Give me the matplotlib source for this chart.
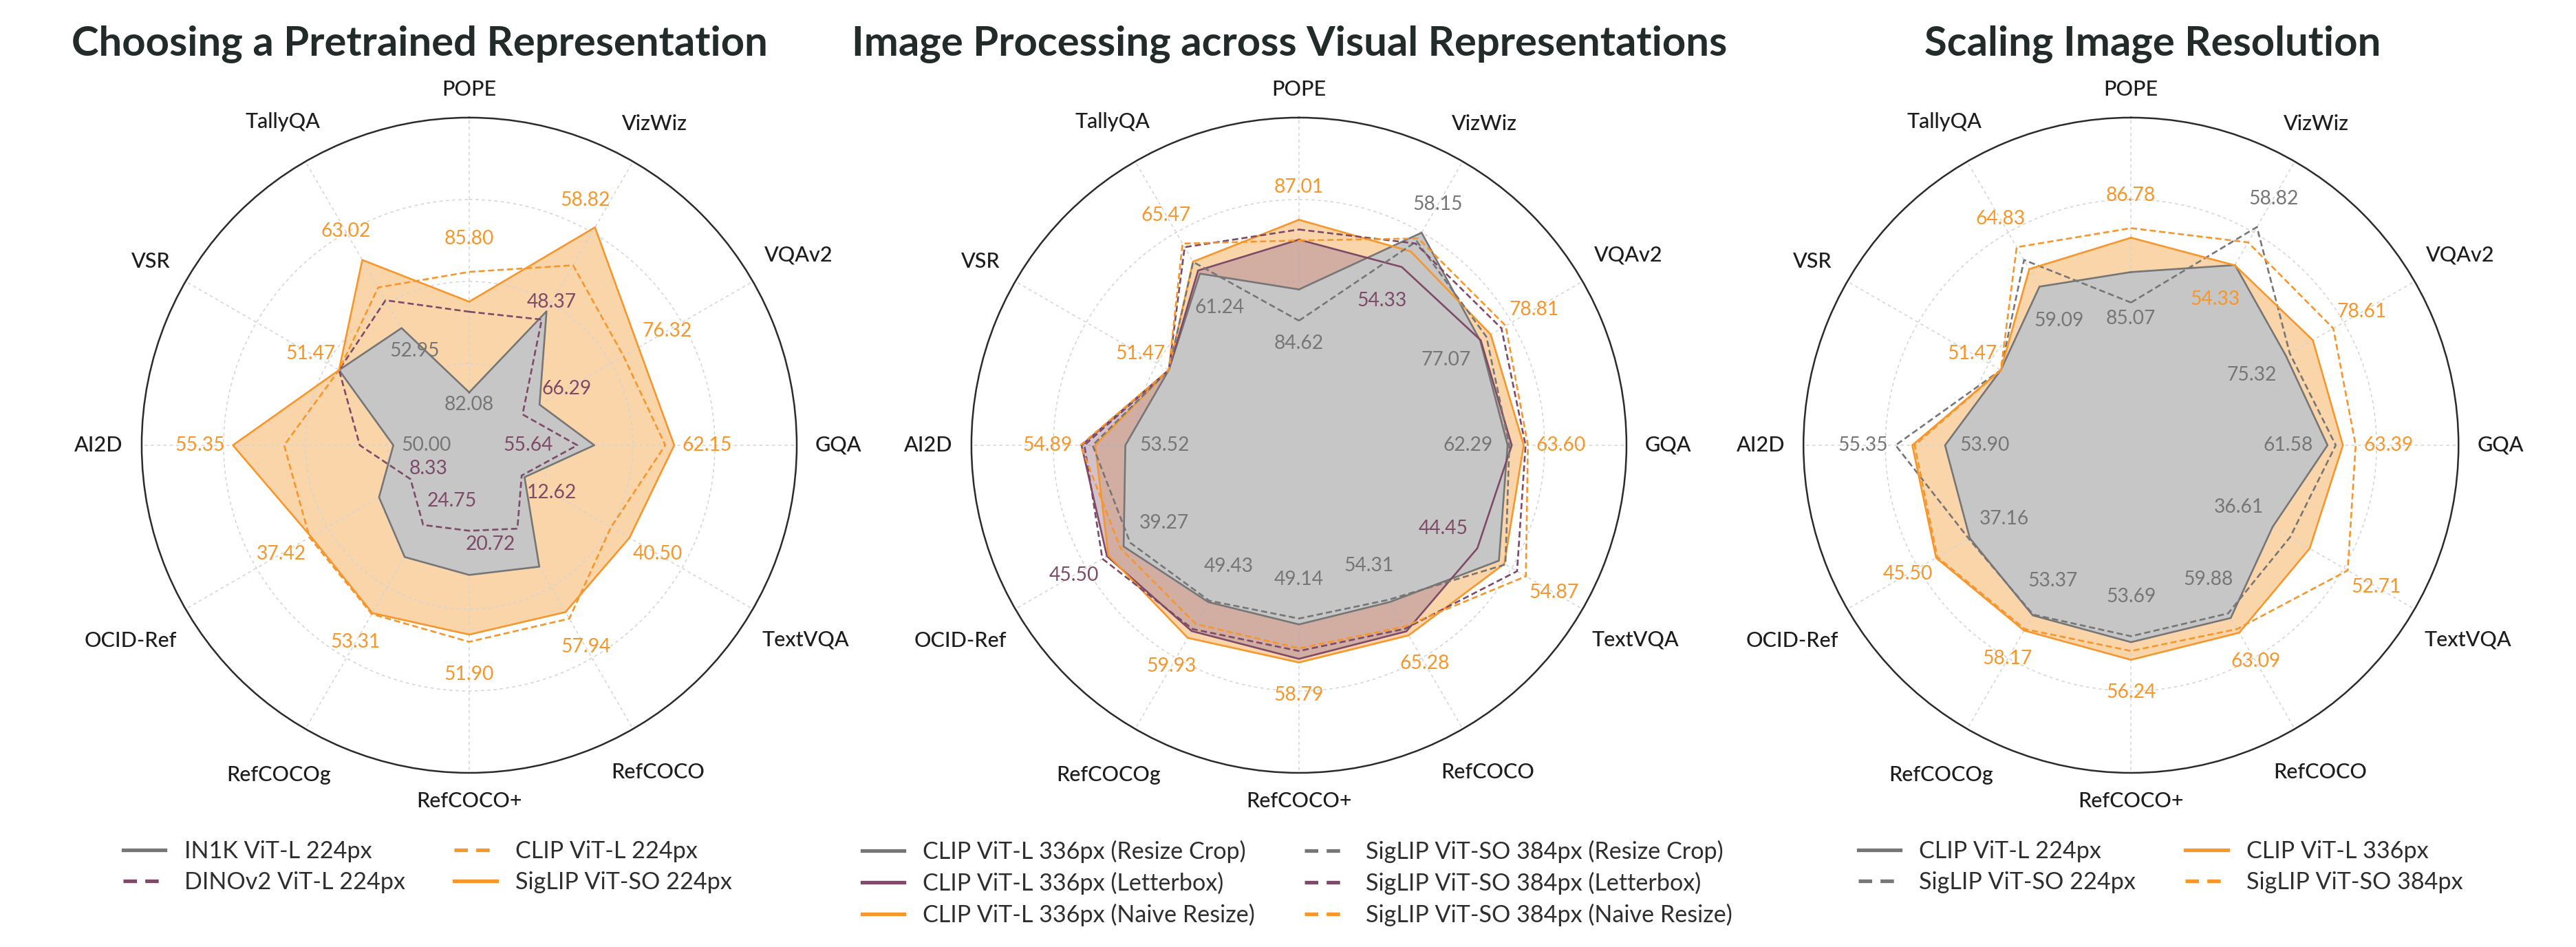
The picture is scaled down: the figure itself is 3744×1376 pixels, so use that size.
import numpy as np
import matplotlib
matplotlib.use("Agg")
import matplotlib.pyplot as plt
from matplotlib.lines import Line2D

plt.rcParams['font.family'] = ['Lato', 'DejaVu Sans']

GRAY = "#767676"
PURPLE = "#7d4a68"
ORANGE = "#f7962b"

benchmarks = ["POPE", "VizWiz", "VQAv2", "GQA", "TextVQA", "RefCOCO", "RefCOCO+",
              "RefCOCOg", "OCID-Ref", "AI2D", "VSR", "TallyQA"]

# ---- chart 1: choosing a pretrained representation
pre_names = ["IN1K ViT-L 224px", "DINOv2 ViT-L 224px", "CLIP ViT-L 224px", "SigLIP ViT-SO 224px"]
pre_in1k = [82.08, 49.31, 67.76, 56.78, 13.36, 40.48, 33.13, 35.03, 17.40, 50.00, 51.47, 52.95]
pre_dinov2 = [84.57, 48.37, 66.29, 55.64, 12.62, 27.70, 20.72, 24.75, 8.33, 51.12, 51.47, 57.06]
pre_clip = [85.80, 54.52, 75.02, 61.55, 35.73, 57.94, 51.90, 53.31, 37.42, 53.64, 51.47, 58.95]
pre_siglip = [84.88, 58.82, 76.32, 62.15, 40.50, 55.74, 49.87, 53.00, 37.01, 55.35, 51.47, 63.02]
pre_lo = [80.45, 34.13, 61.68, 48.38, -0.95, -0.35, -3.29, -0.81, -8.58, 47.47, 40.00, 35.62]
pre_hi = [90.56, 66.28, 86.20, 70.38, 72.42, 95.04, 88.69, 90.15, 73.13, 58.39, 64.99, 77.58]

# ---- chart 2: image processing
proc_names = ["CLIP ViT-L 336px (Resize Crop)", "CLIP ViT-L 336px (Letterbox)",
              "CLIP ViT-L 336px (Naive Resize)", "SigLIP ViT-SO 384px (Resize Crop)",
              "SigLIP ViT-SO 384px (Letterbox)", "SigLIP ViT-SO 384px (Naive Resize)"]
proc_clip_crop = [85.36, 58.15, 77.07, 62.29, 49.08, 55.01, 50.43, 49.83, 40.74, 53.52, 51.47, 61.24]
proc_clip_letter = [86.54, 54.33, 77.11, 62.56, 44.45, 64.05, 58.00, 58.01, 44.49, 54.86, 51.47, 61.68]
proc_clip_naive = [87.01, 56.06, 77.79, 63.33, 50.24, 65.28, 58.79, 59.93, 44.17, 54.44, 51.47, 62.92]
proc_siglip_crop = [84.62, 57.20, 77.50, 62.40, 50.48, 54.31, 49.14, 49.43, 39.27, 54.52, 51.47, 62.88]
proc_siglip_letter = [86.78, 56.95, 78.52, 63.45, 52.98, 63.26, 56.27, 57.45, 45.50, 54.77, 51.47, 64.96]
proc_siglip_naive = [86.52, 57.51, 78.81, 63.60, 54.87, 62.65, 55.69, 56.00, 41.44, 54.89, 51.47, 65.47]
proc_lo = [81.67, 34.50, 64.72, 48.83, 6.12, 6.48, 11.04, 5.51, 1.45, 48.22, 40.00, 37.10]
proc_hi = [89.43, 66.07, 84.05, 69.96, 67.06, 94.24, 83.06, 85.66, 65.02, 58.22, 64.99, 77.01]

# ---- chart 3: image resolution
res_names = ["CLIP ViT-L 224px", "SigLIP ViT-SO 224px", "CLIP ViT-L 336px", "SigLIP ViT-SO 384px"]
res_clip224 = [85.77, 54.36, 75.32, 61.58, 36.61, 60.64, 54.33, 53.60, 37.16, 53.90, 51.47, 59.09]
res_siglip224 = [85.07, 58.82, 75.59, 62.11, 40.37, 59.88, 53.69, 53.37, 37.40, 55.35, 51.47, 62.97]
res_clip336 = [86.56, 54.33, 77.19, 62.57, 44.56, 63.09, 56.24, 58.17, 45.50, 54.86, 51.47, 61.65]
res_siglip384 = [86.78, 57.02, 78.61, 63.39, 52.71, 62.48, 55.28, 57.74, 45.20, 54.79, 51.47, 64.83]
res_lo = [81.79, 33.24, 64.56, 48.95, 6.29, 31.89, 33.04, 2.20, -2.65, 48.45, 40.00, 36.01]
res_hi = [89.32, 66.50, 84.26, 70.00, 67.04, 79.10, 68.46, 87.91, 67.43, 58.05, 64.99, 77.30]

charts = [
    dict(title="Choosing a Pretrained Representation", names=pre_names,
         values=[pre_in1k, pre_dinov2, pre_clip, pre_siglip], lo=pre_lo, hi=pre_hi,
         styles=[(GRAY, "-", True), (PURPLE, "--", False), (ORANGE, "--", False), (ORANGE, "-", True)],
         fill_order=[3, 0],
         min_shift={"POPE": (0, -0.038), "VizWiz": (0, 0.062), "VQAv2": (0, 0.155), "GQA": (0, -0.15),
                    "TextVQA": (0, 0.105), "RefCOCO+": (-12, 0.048), "RefCOCOg": (-12.4, -0.103),
                    "OCID-Ref": (0, -0.064), "AI2D": (0, -0.10), "TallyQA": (0, -0.08)},
         max_shift={"VizWiz": (-4.7, 0.059)}, hide_min=["RefCOCO"],
         rect=[0.0550, 0.1839, 0.2543, 0.6919], tx=0.163),
    dict(title="Image Processing across Visual Representations", names=proc_names,
         values=[proc_clip_crop, proc_clip_letter, proc_clip_naive,
                 proc_siglip_crop, proc_siglip_letter, proc_siglip_naive], lo=proc_lo, hi=proc_hi,
         styles=[(GRAY, "-", True), (PURPLE, "-", True), (ORANGE, "-", True),
                 (GRAY, "--", False), (PURPLE, "--", False), (ORANGE, "--", False)],
         fill_order=[2, 1, 0],
         min_shift={"POPE": (0, -0.07)}, max_shift={}, hide_min=[],
         rect=[0.3771, 0.1839, 0.2543, 0.6919], tx=0.5005),
    dict(title="Scaling Image Resolution", names=res_names,
         values=[res_clip224, res_siglip224, res_clip336, res_siglip384], lo=res_lo, hi=res_hi,
         styles=[(GRAY, "-", True), (GRAY, "--", False), (ORANGE, "-", True), (ORANGE, "--", False)],
         fill_order=[2, 0],
         min_shift={"POPE": (0, -0.05)}, max_shift={}, hide_min=[],
         rect=[0.7001, 0.1839, 0.2543, 0.6919], tx=0.8357),
]

fill_style = {GRAY: ("#c6c6c6", 1.0), PURPLE: ("#a9869b", 0.5), ORANGE: (ORANGE, 0.40)}
dash = (0, (3.4, 1.8))

fig = plt.figure(figsize=(18.72, 6.88), dpi=200)
theta = np.linspace(0, 2 * np.pi, len(benchmarks), endpoint=False)
theta_c = np.append(theta, theta[0])

name_texts = []
for ch in charts:
    ax = fig.add_axes(ch["rect"], projection="polar")
    ax.set_theta_zero_location("N")
    ax.set_theta_direction(-1)
    ax.set_ylim(0, 1)
    ax.set_xticks(theta)
    ax.set_xticklabels([])
    ax.set_yticks([0.25, 0.5, 0.75])
    ax.set_yticklabels([])
    ax.grid(True, color="#d4d4d4", linestyle=(0, (3, 3)), linewidth=0.55)
    ax.spines["polar"].set_color("#2b2b2b")
    ax.spines["polar"].set_linewidth(0.9)
    ax.tick_params(length=0)

    lo = np.array(ch["lo"])
    hi = np.array(ch["hi"])
    vals = np.array(ch["values"])
    radii = (vals - lo) / (hi - lo)

    for n, k in enumerate(ch["fill_order"]):
        col = ch["styles"][k][0]
        fc, fa = fill_style[col]
        ax.fill(theta_c, np.append(radii[k], radii[k][0]), color=fc, alpha=fa,
                linewidth=0, zorder=1 + n)
    for k, (col, ls, _) in enumerate(ch["styles"]):
        ax.plot(theta_c, np.append(radii[k], radii[k][0]), color=col,
                linestyle="-" if ls == "-" else dash, linewidth=0.95, zorder=5)

    # max / min value labels on every axis
    for j, b in enumerate(benchmarks):
        col_vals = vals[:, j]
        imax = len(col_vals) - 1 - int(np.argmax(col_vals[::-1]))
        imin = int(np.argmin(col_vals))
        dth, dr = ch["max_shift"].get(b, (0, 0.10))
        ax.text(theta[j] + np.deg2rad(dth), radii[imax, j] + dr, f"{col_vals[imax]:.2f}",
                ha="center", va="center", fontsize=10.2, color=ch["styles"][imax][0], zorder=8)
        if col_vals[imax] - col_vals[imin] > 1e-9 and b not in ch["hide_min"]:
            dth, dr = ch["min_shift"].get(b, (0, -0.12))
            ax.text(theta[j] + np.deg2rad(dth), radii[imin, j] + dr, f"{col_vals[imin]:.2f}",
                    ha="center", va="center", fontsize=10.2, color=ch["styles"][imin][0], zorder=8)

    for j, b in enumerate(benchmarks):
        t = ax.text(theta[j], 1.0, b, ha="center", va="center", fontsize=11,
                    color="#1d1d1d", fontweight="medium")
        name_texts.append((ax, theta[j], t))

    fig.text(ch["tx"], 0.953, ch["title"], ha="center", va="center", fontsize=21.5,
             fontweight="bold", color="#222a2a")

    handles = [Line2D([0], [0], color=col, linewidth=1.9,
                      linestyle="-" if ls == "-" else (0, (3.7, 2.3)))
               for col, ls, _ in ch["styles"]]
    leg = fig.legend(handles, ch["names"], loc="upper center", bbox_to_anchor=(ch["tx"] + 0.003, 0.125),
                     ncol=2, frameon=False, handlelength=1.8, handletextpad=0.8,
                     columnspacing=2.1, labelspacing=0.38, borderpad=0,
                     prop={"size": 12.3})
    for tx in leg.get_texts():
        tx.set_color("#2e2e2e")

# push benchmark names out of the circle by their own size
fig.canvas.draw()
renderer = fig.canvas.get_renderer()
gap = 27
for ax, a, t in name_texts:
    bb = t.get_window_extent(renderer)
    w, h = bb.width / 2, bb.height / 2
    p = ax.transData.transform((a, 1.0))
    s, c = np.sin(a), np.cos(a)
    d = gap + w * abs(s) + h * abs(c)
    q = p + d * np.array([s, c])
    a2, r2 = ax.transData.inverted().transform(q)
    t.set_position((a2, r2))

fig.savefig("out.png", dpi=200, facecolor="white")
